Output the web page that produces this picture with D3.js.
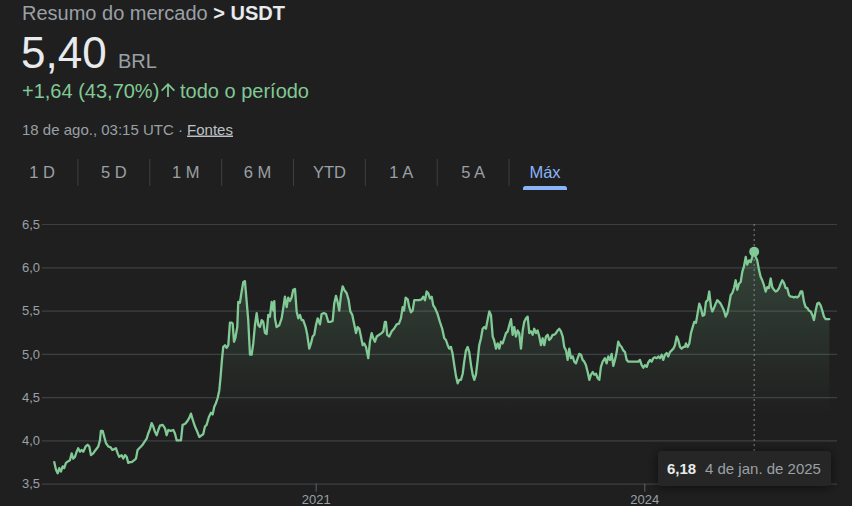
<!DOCTYPE html>
<html><head><meta charset="utf-8">
<script src="https://cdn.jsdelivr.net/npm/d3@7"></script>
<style>
html,body{margin:0;padding:0;background:#1f1f1f;overflow:hidden}
svg{display:block;font-family:Arial,"Liberation Sans",sans-serif}
</style>
</head><body>
<svg id="c" width="852" height="506"></svg>
<script>
// ---- data ----
const title = "Resumo do mercado ";
const symbol = "> USDT";
const lastPrice = "5,40";
const currency = "BRL";
const change = "+1,64 (43,70%)";
const period = "todo o período";
const stamp = "18 de ago., 03:15 UTC · ";
const sourceLink = "Fontes";
const ranges = ["1 D","5 D","1 M","6 M","YTD","1 A","5 A","Máx"];
const activeRange = "Máx";
const yTicks = [3.5, 4.0, 4.5, 5.0, 5.5, 6.0, 6.5];
const xTicks = [2021, 2024];
const highlight = {year: 2025.003, value: 6.18, valueLabel: "6,18", dateLabel: "4 de jan. de 2025"};

// decimal-year dates of the points
const dates = [
2018.613,2018.629,2018.644,2018.659,2018.674,2018.690,2018.704,2018.720,2018.741,2018.756,
2018.772,2018.786,2018.802,2018.818,2018.832,2018.848,2018.863,2018.878,2018.900,2018.918,
2018.933,2018.948,2018.969,2018.991,2019.015,2019.030,2019.039,2019.055,2019.070,2019.085,
2019.106,2019.128,2019.143,2019.161,2019.176,2019.192,2019.206,2019.228,2019.243,2019.259,
2019.274,2019.289,2019.304,2019.320,2019.341,2019.359,2019.374,2019.389,2019.405,2019.420,
2019.435,2019.457,2019.471,2019.487,2019.502,2019.517,2019.532,2019.548,2019.563,2019.578,
2019.603,2019.624,2019.639,2019.654,2019.676,2019.700,2019.715,2019.731,2019.752,2019.770,
2019.785,2019.806,2019.827,2019.846,2019.861,2019.877,2019.898,2019.919,2019.937,2019.959,
2019.973,2019.989,2020.004,2020.025,2020.044,2020.059,2020.074,2020.089,2020.105,2020.120,
2020.132,2020.144,2020.156,2020.172,2020.187,2020.202,2020.217,2020.233,2020.242,2020.254,
2020.266,2020.284,2020.293,2020.308,2020.324,2020.339,2020.354,2020.370,2020.384,2020.400,
2020.415,2020.430,2020.445,2020.461,2020.476,2020.491,2020.507,2020.521,2020.537,2020.552,
2020.567,2020.582,2020.598,2020.613,2020.622,2020.628,2020.643,2020.667,2020.689,2020.704,
2020.719,2020.735,2020.749,2020.765,2020.780,2020.795,2020.811,2020.826,2020.841,2020.856,
2020.872,2020.886,2020.908,2020.923,2020.941,2020.957,2020.972,2020.987,2021.002,2021.018,
2021.039,2021.054,2021.075,2021.094,2021.115,2021.137,2021.155,2021.169,2021.185,2021.200,
2021.215,2021.231,2021.246,2021.261,2021.283,2021.301,2021.316,2021.334,2021.352,2021.368,
2021.383,2021.398,2021.413,2021.429,2021.443,2021.459,2021.480,2021.495,2021.511,2021.526,
2021.541,2021.557,2021.580,2021.602,2021.617,2021.632,2021.641,2021.653,2021.672,2021.694,
2021.715,2021.739,2021.760,2021.778,2021.794,2021.806,2021.821,2021.840,2021.854,2021.870,
2021.885,2021.900,2021.922,2021.945,2021.967,2021.982,2021.998,2022.013,2022.028,2022.043,
2022.059,2022.073,2022.089,2022.110,2022.134,2022.155,2022.174,2022.189,2022.205,2022.219,
2022.235,2022.250,2022.265,2022.281,2022.296,2022.311,2022.326,2022.342,2022.356,2022.372,
2022.387,2022.402,2022.418,2022.433,2022.448,2022.463,2022.479,2022.493,2022.509,2022.524,
2022.539,2022.554,2022.566,2022.585,2022.600,2022.616,2022.628,2022.646,2022.661,2022.676,
2022.691,2022.707,2022.722,2022.737,2022.753,2022.767,2022.783,2022.798,2022.813,2022.828,
2022.844,2022.858,2022.874,2022.890,2022.904,2022.920,2022.935,2022.950,2022.965,2022.981,
2022.995,2023.011,2023.026,2023.041,2023.057,2023.072,2023.087,2023.102,2023.118,2023.132,
2023.148,2023.163,2023.178,2023.194,2023.209,2023.224,2023.239,2023.255,2023.269,2023.285,
2023.300,2023.315,2023.331,2023.346,2023.361,2023.376,2023.392,2023.406,2023.422,2023.437,
2023.452,2023.467,2023.483,2023.498,2023.513,2023.529,2023.543,2023.559,2023.574,2023.589,
2023.604,2023.620,2023.641,2023.656,2023.671,2023.687,2023.702,2023.717,2023.732,2023.748,
2023.762,2023.778,2023.793,2023.808,2023.824,2023.839,2023.854,2023.885,2023.915,2023.945,
2023.960,2023.976,2023.991,2024.006,2024.022,2024.036,2024.052,2024.067,2024.082,2024.097,
2024.113,2024.128,2024.143,2024.159,2024.173,2024.189,2024.204,2024.219,2024.234,2024.250,
2024.265,2024.280,2024.296,2024.310,2024.326,2024.341,2024.356,2024.371,2024.380,2024.396,
2024.411,2024.426,2024.442,2024.456,2024.472,2024.487,2024.502,2024.517,2024.533,2024.548,
2024.563,2024.579,2024.593,2024.609,2024.621,2024.636,2024.652,2024.666,2024.682,2024.697,
2024.712,2024.727,2024.743,2024.758,2024.773,2024.789,2024.803,2024.819,2024.834,2024.849,
2024.864,2024.880,2024.895,2024.910,2024.926,2024.940,2024.956,2024.971,2024.986,2025.003,
2025.017,2025.031,2025.047,2025.062,2025.077,2025.093,2025.108,2025.123,2025.138,2025.154,
2025.168,2025.184,2025.199,2025.214,2025.230,2025.245,2025.260,2025.275,2025.291,2025.305,
2025.321,2025.336,2025.351,2025.367,2025.382,2025.397,2025.412,2025.428,2025.442,2025.458,
2025.473,2025.488,2025.503,2025.519,2025.534,2025.549,2025.565,2025.579,2025.595,2025.610,
2025.625,2025.640,2025.656,2025.680,2025.689
];
// USDT price in BRL
const prices = [
3.75,3.66,3.62,3.68,3.64,3.70,3.68,3.74,3.76,3.77,
3.85,3.79,3.81,3.87,3.91,3.87,3.89,3.87,3.93,3.95,
3.93,3.83,3.85,3.89,3.93,4.00,4.11,4.11,4.04,3.97,
3.93,3.92,3.89,3.90,3.91,3.85,3.81,3.83,3.79,3.83,
3.81,3.74,3.75,3.75,3.77,3.79,3.89,3.91,3.93,3.95,
3.98,4.02,4.08,4.13,4.20,4.16,4.10,4.06,4.12,4.17,
4.18,4.14,4.06,4.12,4.11,4.12,4.08,4.00,4.00,4.00,
4.18,4.19,4.22,4.26,4.31,4.24,4.16,4.10,4.04,4.06,
4.07,4.16,4.18,4.27,4.32,4.30,4.39,4.43,4.49,4.58,
4.74,4.93,5.08,5.10,5.07,5.10,5.36,5.36,5.35,5.14,
5.18,5.31,5.60,5.59,5.72,5.83,5.84,5.60,5.39,4.99,
4.99,5.12,5.33,5.47,5.33,5.31,5.39,5.37,5.24,5.23,
5.45,5.43,5.60,5.50,5.61,5.41,5.31,5.33,5.41,5.53,
5.66,5.54,5.65,5.61,5.65,5.74,5.75,5.49,5.41,5.45,
5.39,5.39,5.31,5.22,5.06,5.12,5.20,5.22,5.33,5.41,
5.34,5.46,5.47,5.46,5.37,5.37,5.38,5.58,5.67,5.60,
5.50,5.68,5.78,5.74,5.70,5.62,5.49,5.45,5.34,5.24,
5.31,5.29,5.20,5.10,5.12,5.08,4.95,5.14,5.24,5.18,
5.14,5.20,5.22,5.24,5.26,5.37,5.37,5.22,5.20,5.26,
5.29,5.34,5.35,5.41,5.54,5.50,5.65,5.63,5.54,5.48,
5.50,5.62,5.62,5.62,5.63,5.66,5.62,5.72,5.70,5.64,
5.66,5.56,5.53,5.47,5.37,5.29,5.18,5.16,5.10,5.06,
5.08,5.00,4.87,4.74,4.66,4.70,4.70,4.77,4.91,5.04,
5.08,5.02,4.87,4.76,4.70,4.76,4.93,5.10,5.18,5.29,
5.31,5.29,5.37,5.49,5.45,5.20,5.16,5.06,5.12,5.06,
5.14,5.12,5.18,5.24,5.26,5.33,5.40,5.22,5.31,5.20,
5.27,5.24,5.06,5.27,5.37,5.41,5.43,5.24,5.26,5.22,
5.29,5.24,5.27,5.20,5.10,5.18,5.10,5.20,5.22,5.16,
5.18,5.22,5.22,5.24,5.27,5.29,5.26,5.20,5.08,5.04,
4.93,5.06,4.95,4.97,4.91,4.89,4.95,5.00,4.99,4.93,
4.91,4.87,4.79,4.70,4.76,4.79,4.76,4.77,4.72,4.70,
4.85,4.91,4.95,4.89,4.97,4.93,5.00,4.86,4.93,5.02,
5.14,5.10,5.08,5.04,5.02,4.93,4.91,4.91,4.91,4.91,
4.93,4.87,4.84,4.87,4.85,4.90,4.93,4.91,4.95,4.96,
4.95,4.97,4.95,4.99,4.93,4.99,5.01,4.97,5.02,5.04,
5.06,5.10,5.20,5.16,5.08,5.06,5.08,5.08,5.12,5.08,
5.12,5.24,5.31,5.37,5.36,5.47,5.58,5.53,5.44,5.45,
5.60,5.62,5.72,5.54,5.49,5.53,5.58,5.62,5.60,5.58,
5.54,5.50,5.43,5.47,5.56,5.68,5.70,5.76,5.85,5.74,
5.81,5.83,5.95,6.01,6.12,6.03,6.08,6.06,6.12,6.18,
6.12,6.08,5.97,5.89,5.85,5.79,5.72,5.77,5.76,5.87,
5.77,5.74,5.72,5.73,5.76,5.81,5.85,5.82,5.76,5.76,
5.68,5.66,5.66,5.65,5.66,5.65,5.67,5.72,5.72,5.60,
5.54,5.53,5.50,5.49,5.45,5.39,5.50,5.58,5.59,5.56,
5.50,5.43,5.40,5.40,5.40
];

// ---- colours ----
const C = {bg:"#1f1f1f", text:"#e8eaed", sub:"#9aa0a6", green:"#81c995", blue:"#8ab4f8", grid:"#3c4043"};

const svg = d3.select("#c");
svg.append("rect").attr("width",852).attr("height",506).attr("fill",C.bg);

// ---- header ----
const h1 = svg.append("text").attr("x",22).attr("y",19.5).attr("font-size",20);
h1.append("tspan").attr("fill",C.sub).text(title);
h1.append("tspan").attr("fill",C.text).attr("font-weight",600).text(symbol);

svg.append("text").attr("x",21).attr("y",68).attr("font-size",44).attr("fill",C.text).text(lastPrice);
svg.append("text").attr("x",118).attr("y",68).attr("font-size",20).attr("fill",C.sub).text(currency);

svg.append("text").attr("x",22).attr("y",98).attr("font-size",20).attr("fill",C.green).text(change);
svg.append("path").attr("d","M4 12l1.41 1.41L11 7.83V20h2V7.83l5.58 5.59L20 12l-8-8-8 8z")
  .attr("transform","translate(157.5,79.5) scale(0.875)").attr("fill",C.green);
svg.append("text").attr("x",180).attr("y",98).attr("font-size",20).attr("fill",C.green).text(period);

const st = svg.append("text").attr("x",22).attr("y",134.5).attr("font-size",15).attr("fill",C.sub);
st.append("tspan").text(stamp);
st.append("tspan").attr("fill","#bdc1c6").attr("text-decoration","underline").text(sourceLink);

// ---- range tabs ----
const tabCenters = d3.scalePoint().domain(ranges).range([42, 545]);
const tabs = svg.append("g");
ranges.forEach((r,i)=>{
  tabs.append("text").attr("x",tabCenters(r)).attr("y",178).attr("text-anchor","middle")
    .attr("font-size",16.5).attr("fill", r===activeRange?C.blue:C.sub).text(r);
  if(i<ranges.length-1){
    const sx = (tabCenters(r)+tabCenters(ranges[i+1]))/2;
    tabs.append("line").attr("x1",sx).attr("x2",sx).attr("y1",159).attr("y2",186)
      .attr("stroke",C.grid).attr("stroke-width",1);
  }
});
const ax = tabCenters(activeRange);
tabs.append("path").attr("d",`M${ax-22},190 v-1.5 a2.5,2.5 0 0 1 2.5,-2.5 h39 a2.5,2.5 0 0 1 2.5,2.5 v1.5 z`).attr("fill",C.blue);

// ---- chart ----
const x = d3.scaleLinear().domain([2021, 2024]).range([315.7, 644.3]);
const y = d3.scaleLinear().domain([3.5, 6.5]).range([483.7, 224]);
const gridLeft = 42, gridRight = 837;
const fmt = d => d.toFixed(1).replace(".", ",");

const yAxis = d3.axisLeft(y).tickValues(yTicks).tickFormat(fmt)
  .tickSize(-(gridRight-gridLeft)).tickPadding(2);
const gy = svg.append("g").attr("transform",`translate(${gridLeft},0)`).call(yAxis);
gy.select(".domain").remove();
gy.selectAll(".tick line").attr("stroke",C.grid).attr("stroke-width",1.2);
gy.selectAll(".tick text").attr("fill",C.sub).attr("font-size",13)
  .attr("font-family",'Arial,"Liberation Sans",sans-serif');

const data = dates.map((d,i)=>({t:d, v:prices[i]}));

const defs = svg.append("defs");
const grad = defs.append("linearGradient").attr("id","fillGrad")
  .attr("gradientUnits","userSpaceOnUse").attr("x1",0).attr("x2",0).attr("y1",y(6.0)).attr("y2",y(4.3));
grad.append("stop").attr("offset",0).attr("stop-color",C.green).attr("stop-opacity",0.2);
grad.append("stop").attr("offset",1).attr("stop-color",C.green).attr("stop-opacity",0);

svg.append("path").datum(data)
  .attr("d", d3.area().x(d=>x(d.t)).y0(y(3.5)).y1(d=>y(d.v)))
  .attr("fill","url(#fillGrad)");

svg.append("path").datum(data)
  .attr("d", d3.line().x(d=>x(d.t)).y(d=>y(d.v)))
  .attr("fill","none").attr("stroke",C.green).attr("stroke-width",2.3)
  .attr("stroke-linejoin","round").attr("stroke-linecap","round");

const xAxis = d3.axisBottom(x).tickValues(xTicks).tickFormat(d=>String(d)).tickSize(8).tickPadding(3);
const gx = svg.append("g").attr("transform",`translate(0,${y(3.5)})`).call(xAxis);
gx.select(".domain").remove();
gx.selectAll(".tick line").attr("stroke","#5f6368");
gx.selectAll(".tick text").attr("fill",C.sub).attr("font-size",13)
  .attr("font-family",'Arial,"Liberation Sans",sans-serif');

// ---- highlighted point + tooltip ----
const hx = x(highlight.year), hy = y(highlight.value);
const tipTop = 451, tipLeft = 658, tipRight = 831, tipH = 35;
svg.append("line").attr("x1",hx).attr("x2",hx).attr("y1",y(6.5)).attr("y2",tipTop)
  .attr("stroke",C.sub).attr("stroke-width",1).attr("stroke-dasharray","2,3").attr("opacity",0.8);
svg.append("circle").attr("cx",hx).attr("cy",hy).attr("r",5).attr("fill",C.green);

const f = defs.append("filter").attr("id","sh").attr("x","-30%").attr("y","-80%").attr("width","160%").attr("height","260%");
f.append("feDropShadow").attr("dx",0).attr("dy",1).attr("stdDeviation",6).attr("flood-color","#000").attr("flood-opacity",0.6);

const tip = svg.append("g");
tip.append("rect").attr("x",tipLeft).attr("y",tipTop).attr("width",tipRight-tipLeft).attr("height",tipH)
  .attr("rx",4).attr("fill","#272727").attr("filter","url(#sh)");
tip.append("text").attr("x",tipLeft+9).attr("y",tipTop+23).attr("font-size",15)
  .attr("font-weight","bold").attr("fill",C.text).text(highlight.valueLabel);
tip.append("text").attr("x",tipLeft+47).attr("y",tipTop+23).attr("font-size",15)
  .attr("fill",C.sub).text(highlight.dateLabel);
</script>
</body></html>
